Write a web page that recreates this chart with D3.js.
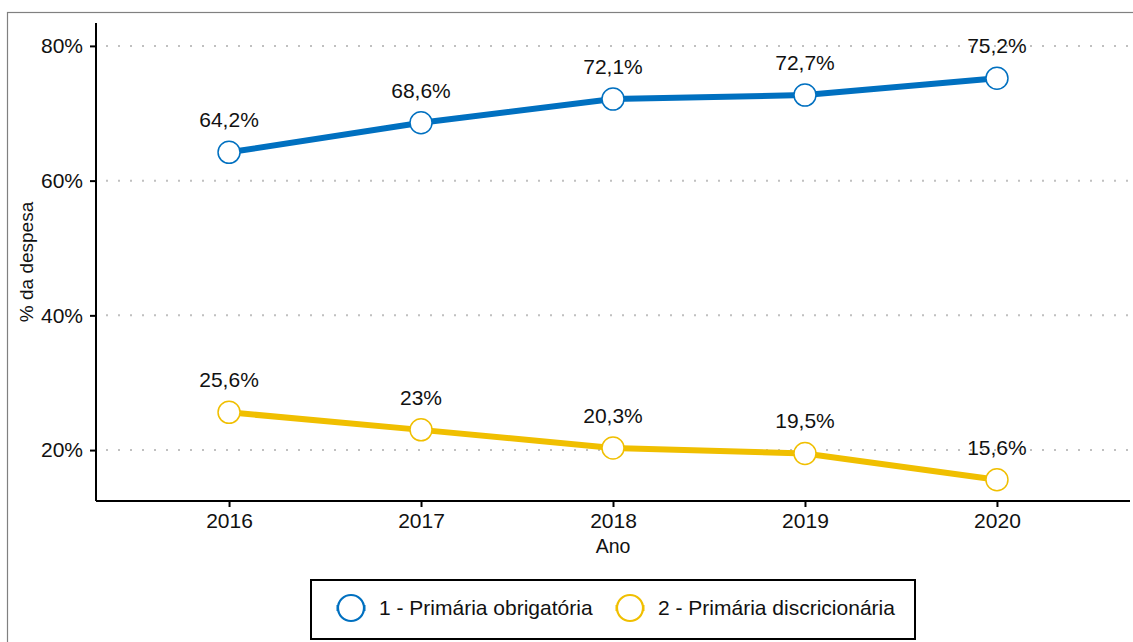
<!DOCTYPE html>
<html>
<head>
<meta charset="utf-8">
<script src="https://cdn.jsdelivr.net/npm/d3@7"></script>
<style>
  body { margin: 0; background: #fff; }
  svg { font-family: "Liberation Sans", Arial, sans-serif; }
</style>
</head>
<body>
<div id="chart"></div>
<script>
// data
var years = [2016, 2017, 2018, 2019, 2020];
var obrigatoria = [64.2, 68.6, 72.1, 72.7, 75.2];
var discricionaria = [25.6, 23.0, 20.3, 19.5, 15.6];
var seriesNames = ["1 - Primária obrigatória", "2 - Primária discricionária"];
var seriesColors = ["#0070c0", "#f0bf00"];
var yTicks = [20, 40, 60, 80];

var W = 1133, H = 642;
var margin = {top: 23, right: 3, bottom: 141, left: 96},
    width = W - margin.left - margin.right,
    height = H - margin.top - margin.bottom;

var fmt = function(v) { return String(v).replace(".", ",") + "%"; };

var x = d3.scaleLinear()
    .domain([2015.307, 2020.693])
    .range([0, width]);

var y = d3.scaleLinear()
    .domain([12.44, 83.4])
    .range([height, 0]);

var line = d3.line()
    .x(function(d) { return x(d.year); })
    .y(function(d) { return y(d.value); });

var svg = d3.select("#chart").append("svg")
    .attr("width", W)
    .attr("height", H);

// outer frame
svg.append("rect")
    .attr("x", 7.5).attr("y", 12.5)
    .attr("width", W).attr("height", H)
    .attr("fill", "none")
    .attr("stroke", "#808080")
    .attr("stroke-width", 1.2);

var g = svg.append("g")
    .attr("transform", "translate(" + margin.left + "," + margin.top + ")");

// dotted grid
g.selectAll(".grid").data(yTicks).enter().append("line")
    .attr("x1", 0).attr("x2", width)
    .attr("y1", function(d) { return y(d); })
    .attr("y2", function(d) { return y(d); })
    .attr("stroke", "#c0c0c0")
    .attr("stroke-width", 2)
    .attr("stroke-dasharray", "2,10")
    .attr("stroke-dashoffset", -10);

// axes
var yAxis = g.append("g")
    .call(d3.axisLeft(y).tickValues(yTicks).tickSize(6).tickPadding(7).tickFormat(function(d) { return d + "%"; }));
var xAxis = g.append("g")
    .attr("transform", "translate(0," + height + ")")
    .call(d3.axisBottom(x).tickValues(years).tickSize(6).tickPadding(6).tickFormat(d3.format("d")));

[xAxis, yAxis].forEach(function(a) {
    a.select(".domain").attr("stroke", "#000").attr("stroke-width", 2).attr("d",
        a === xAxis ? "M0,0H" + width : "M0,0V" + height);
    a.selectAll(".tick line").attr("stroke", "#000").attr("stroke-width", 2);
    a.selectAll(".tick text").attr("fill", "#111").style("font-size", "21px");
});

// axis titles
g.append("text")
    .attr("x", width / 2).attr("y", height + 52)
    .attr("text-anchor", "middle")
    .style("font-size", "19.5px")
    .attr("fill", "#111")
    .text("Ano");

g.append("text")
    .attr("transform", "translate(" + (-63) + "," + (height / 2) + ") rotate(-90)")
    .attr("text-anchor", "middle")
    .style("font-size", "19px")
    .attr("fill", "#111")
    .text("% da despesa");

// series
var series = [obrigatoria, discricionaria].map(function(vals, i) {
    return {
        name: seriesNames[i],
        color: seriesColors[i],
        values: vals.map(function(v, j) { return {year: years[j], value: v}; })
    };
});

series.forEach(function(s) {
    g.append("path")
        .datum(s.values)
        .attr("fill", "none")
        .attr("stroke", s.color)
        .attr("stroke-width", 6)
        .attr("d", line);

    g.selectAll(null).data(s.values).enter().append("circle")
        .attr("cx", function(d) { return x(d.year); })
        .attr("cy", function(d) { return y(d.value); })
        .attr("r", 11)
        .attr("fill", "#fff")
        .attr("stroke", s.color)
        .attr("stroke-width", 1.5);

    g.selectAll(null).data(s.values).enter().append("text")
        .attr("x", function(d) { return x(d.year); })
        .attr("y", function(d) { return y(d.value) - 25; })
        .attr("text-anchor", "middle")
        .style("font-size", "21px")
        .attr("fill", "#111")
        .text(function(d) { return fmt(d.value); });
});

// legend
var legend = svg.append("g").attr("transform", "translate(311,580)");
legend.append("rect")
    .attr("width", 604).attr("height", 59)
    .attr("fill", "#fff")
    .attr("stroke", "#000")
    .attr("stroke-width", 2);

var itemX = [40, 319];
series.forEach(function(s, i) {
    var it = legend.append("g").attr("transform", "translate(" + itemX[i] + ",28)");
    it.append("line")
        .attr("x1", -14.5).attr("x2", 14.5)
        .attr("stroke", s.color).attr("stroke-width", 6);
    it.append("circle")
        .attr("r", 13)
        .attr("fill", "#fff")
        .attr("stroke", s.color)
        .attr("stroke-width", 2.2);
    it.append("text")
        .attr("x", 28).attr("dy", "0.35em")
        .style("font-size", "21px")
        .attr("fill", "#111")
        .text(s.name);
});
</script>
</body>
</html>
